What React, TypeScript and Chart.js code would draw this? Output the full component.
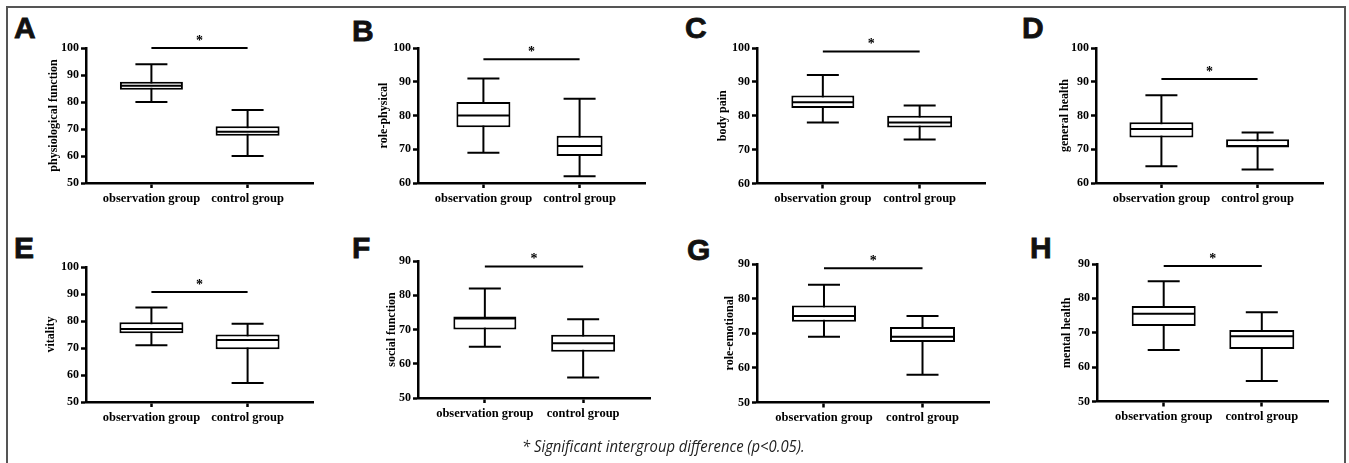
import React, { useEffect, useRef } from 'react';
import { Chart, registerables } from 'chart.js';
Chart.register(...registerables);

// ---------- data ----------
const panelLetters = ['A', 'B', 'C', 'D', 'E', 'F', 'G', 'H'];
const yTitles = [
  'physiological function', 'role-physical', 'body pain', 'general health',
  'vitality', 'social function', 'role-emotional', 'mental health',
];
const categories = ['observation group', 'control group'];
const yMin = [50, 60, 60, 60, 50, 50, 50, 50];
const yMax = [100, 100, 100, 100, 100, 90, 90, 90];
const yStep = [10, 10, 10, 10, 10, 10, 10, 10];

// observation group five-number summaries
const obsMin = [80, 69, 78, 65, 71, 65, 69, 65];
const obsQ1 = [84.5, 76.5, 82.3, 73.5, 75.5, 70, 73.3, 72];
const obsMedian = [86, 80, 84, 76, 77, 73.2, 75, 75.5];
const obsQ3 = [87.5, 84, 86, 78, 79.5, 73.8, 78, 77.8];
const obsMax = [94, 91, 92, 86, 85, 82, 84, 85];

// control group five-number summaries
const ctrlMin = [60, 62, 73, 64, 57, 56, 58, 56];
const ctrlQ1 = [67.5, 68, 76.5, 70.5, 69.5, 63.5, 67.5, 65.3];
const ctrlMedian = [69, 71, 78, 71, 73, 66, 69, 69];
const ctrlQ3 = [71, 74, 80, 73, 75, 68.5, 71.8, 70.8];
const ctrlMax = [77, 85, 83, 75, 79, 73, 75, 76];

// significance bar level per panel
const sigLevel = [100, 96.7, 99, 90.8, 90.7, 88.4, 88.8, 89.4];

// ---------- layout (page pixels) ----------
const layout = [
  { axisLeft: 86, right: 313, top: 48, bottom: 183, titleDist: 32, lx: 15, ly: 18, boxW: [63, 64] },
  { axisLeft: 418, right: 645, top: 48, bottom: 183, titleDist: 34, lx: 353, ly: 21, boxW: [54, 46] },
  { axisLeft: 757, right: 985, top: 48, bottom: 183, titleDist: 34, lx: 686, ly: 18, boxW: [63, 65] },
  { axisLeft: 1096, right: 1323, top: 48, bottom: 183, titleDist: 31, lx: 1023, ly: 18, boxW: [64, 63] },
  { axisLeft: 86, right: 313, top: 267, bottom: 402, titleDist: 35, lx: 15, ly: 238, boxW: [64, 64] },
  { axisLeft: 418, right: 650, top: 261, bottom: 398, titleDist: 26, lx: 353, ly: 238, boxW: [63, 64] },
  { axisLeft: 757, right: 989, top: 264, bottom: 402, titleDist: 27, lx: 688, ly: 240, boxW: [64, 65] },
  { axisLeft: 1097, right: 1328, top: 264, bottom: 401, titleDist: 30, lx: 1031, ly: 238, boxW: [64, 65] },
];

const SERIF = '"Liberation Serif", "Times New Roman", serif';
const CAP_W = 32;

function BoxPanel({ i }: { i: number }) {
  const ref = useRef<HTMLCanvasElement>(null);
  const L = layout[i];
  const yW = Math.round(L.titleDist + 7);
  const padTop = 40;
  const padRight = 12;
  const cw = yW + (L.right - L.axisLeft) + padRight;
  const ch = padTop + (L.bottom - L.top) + 30;

  useEffect(() => {
    const canvas = ref.current;
    if (!canvas) return;
    const starPlugin = {
      id: 'sigStar' + i,
      afterDatasetsDraw(chart: any) {
        const xs = chart.scales.x;
        const ys = chart.scales.y;
        const cx = (xs.getPixelForValue(0) + xs.getPixelForValue(1)) / 2;
        const cy = ys.getPixelForValue(sigLevel[i]);
        const ctx = chart.ctx;
        ctx.save();
        ctx.fillStyle = '#000';
        ctx.font = `bold 14px ${SERIF}`;
        ctx.textAlign = 'center';
        ctx.textBaseline = 'alphabetic';
        ctx.fillText('*', cx, cy - 3);
        ctx.restore();
      },
    };
    const pointLine = (vals: number[], r: number | number[]) => ({
      type: 'line' as const,
      data: vals.map((v, k) => ({ x: k, y: v })),
      showLine: false,
      pointStyle: 'line',
      pointRadius: r,
      pointHoverRadius: r,
      pointBorderWidth: 2,
      pointBorderColor: '#000',
      borderColor: '#000',
      clip: false,
      order: 0,
    });
    const boxSet = (k: number, q1: number, q3: number) => ({
      type: 'bar' as const,
      data: [{ x: k, y: [q1, q3] }],
      backgroundColor: '#fff',
      borderColor: '#000',
      borderWidth: 2,
      borderSkipped: false,
      barThickness: L.boxW[k],
      grouped: false,
      inflateAmount: 0,
      order: 1,
    });
    const chart = new Chart(canvas, {
      type: 'bar',
      data: {
        datasets: [
          {
            type: 'line',
            data: [{ x: 0, y: sigLevel[i] }, { x: 1, y: sigLevel[i] }],
            borderColor: '#000',
            borderWidth: 2,
            pointRadius: 0,
            clip: false,
            order: 0,
          } as any,
          pointLine([obsMedian[i], ctrlMedian[i]], [L.boxW[0] / 2 - 1, L.boxW[1] / 2 - 1]),
          pointLine([obsMax[i], ctrlMax[i]], CAP_W / 2),
          pointLine([obsMin[i], ctrlMin[i]], CAP_W / 2),
          boxSet(0, obsQ1[i], obsQ3[i]) as any,
          boxSet(1, ctrlQ1[i], ctrlQ3[i]) as any,
          {
            type: 'bar',
            data: [
              { x: 0, y: [obsMin[i], obsMax[i]] },
              { x: 1, y: [ctrlMin[i], ctrlMax[i]] },
            ],
            backgroundColor: '#000',
            borderWidth: 0,
            barThickness: 2,
            grouped: false,
            inflateAmount: 0,
            order: 2,
          } as any,
        ],
      },
      options: {
        responsive: false,
        maintainAspectRatio: false,
        animation: false,
        events: [],
        layout: { padding: { top: padTop, right: padRight, left: 0, bottom: 0 } },
        plugins: {
          legend: { display: false },
          tooltip: { enabled: false },
          title: { display: false },
        },
        scales: {
          x: {
            type: 'linear',
            offset: false,
            min: -0.68,
            max: 1.68,
            afterBuildTicks: (s: any) => {
              s.ticks = [{ value: 0 }, { value: 1 }];
            },
            grid: {
              display: true,
              offset: false,
              drawOnChartArea: false,
              drawTicks: true,
              tickLength: 5,
              tickWidth: 2.5,
              tickColor: '#000',
            },
            border: { display: true, color: '#000', width: 2.5 },
            ticks: {
              color: '#000',
              font: { family: SERIF, size: 12.5, weight: 'bold' },
              padding: 3,
              autoSkip: false,
              maxRotation: 0,
              callback: (v: any) => categories[v] ?? '',
            },
          },
          y: {
            type: 'linear',
            min: yMin[i],
            max: yMax[i],
            afterFit: (s: any) => {
              s.width = yW;
            },
            grid: {
              display: true,
              drawOnChartArea: false,
              drawTicks: true,
              tickLength: 5,
              tickWidth: 2.5,
              tickColor: '#000',
            },
            border: { display: true, color: '#000', width: 2.5 },
            ticks: {
              stepSize: yStep[i],
              color: '#000',
              font: { family: SERIF, size: 12, weight: 'bold' },
              padding: 2,
            },
            title: {
              display: true,
              text: yTitles[i],
              color: '#000',
              font: { family: SERIF, size: 12, weight: 'bold', lineHeight: 1.2 },
              padding: 0,
            },
          },
        },
      } as any,
      plugins: [starPlugin],
    });
    // fit the plot area exactly onto the panel's target rectangle
    const ca = chart.chartArea;
    const dw = Math.round(L.right - L.axisLeft - (ca.right - ca.left));
    const dh = Math.round(L.bottom - L.top - (ca.bottom - ca.top));
    if (dw !== 0 || dh !== 0) chart.resize(cw + dw, ch + dh);
    const ca2 = chart.chartArea;
    canvas.style.left = `${Math.round(L.axisLeft - ca2.left)}px`;
    canvas.style.top = `${Math.round(L.top - ca2.top)}px`;
    return () => chart.destroy();
  }, [i]);

  return (
    <>
      <canvas
        ref={ref}
        width={cw}
        height={ch}
        style={{
          position: 'absolute',
          left: L.axisLeft - yW,
          top: L.top - padTop,
          display: 'block',
        }}
      />
      <div
        style={{
          position: 'absolute',
          left: L.lx - 1,
          top: L.ly - 5,
          font: 'bold 30px "Liberation Sans", Arial, sans-serif',
          lineHeight: '30px',
          color: '#111',
          WebkitTextStroke: '0.8px #111',
        }}
      >
        {panelLetters[i]}
      </div>
    </>
  );
}

export default function App() {
  useEffect(() => {
    document.body.style.margin = '0';
    document.body.style.overflow = 'hidden';
  }, []);
  return (
    <div
      style={{
        position: 'absolute',
        left: 0,
        top: 0,
        width: 1349,
        height: 463,
        overflow: 'hidden',
        background: '#fff',
      }}
    >
      <div
        style={{
          position: 'absolute',
          left: 6,
          top: 6,
          width: 1336,
          height: 470,
          border: '2px solid #555',
          boxSizing: 'content-box',
        }}
      />
      {panelLetters.map((_, i) => (
        <BoxPanel key={i} i={i} />
      ))}
      <div
        style={{
          position: 'absolute',
          left: 522,
          top: 435,
          fontFamily: '"Open Sans", "DejaVu Sans", sans-serif',
          fontStyle: 'italic',
          fontSize: 17,
          lineHeight: '22px',
          color: '#222',
          whiteSpace: 'nowrap',
          transform: 'scaleX(0.87)',
          transformOrigin: '0 0',
        }}
      >
        * Significant intergroup difference (p&lt;0.05).
      </div>
    </div>
  );
}
